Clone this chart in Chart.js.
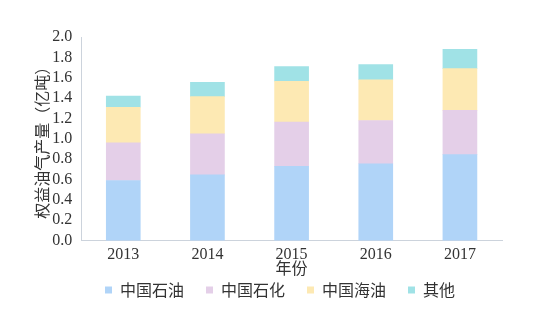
<!DOCTYPE html>
<html><head><meta charset="utf-8">
<script src="https://cdn.jsdelivr.net/npm/chart.js@4/dist/chart.umd.min.js"></script>
<style>html,body{margin:0;padding:0;background:#fff}#wrap{width:554px;height:309px}</style>
</head><body><div id="wrap"><canvas id="c" width="554" height="309"></canvas></div>
<script>
const years = ['2013','2014','2015','2016','2017'];
const seriesNames = ['中国石油','中国石化','中国海油','其他'];
const cnpc = [0.59, 0.645, 0.73, 0.755, 0.845];
const sinopec = [0.37, 0.405, 0.435, 0.425, 0.435];
const cnooc = [0.35, 0.365, 0.40, 0.40, 0.41];
const others = [0.11, 0.14, 0.145, 0.15, 0.19];
const yTicks = [0,0.2,0.4,0.6,0.8,1.0,1.2,1.4,1.6,1.8,2.0];
const colors = ['#b0d4f8','#e4cfe8','#fde9b3','#a0e2e6'];
const serif = "'Liberation Serif','DejaVu Serif',serif";
const cjk = "'Noto Sans CJK SC','Liberation Serif',sans-serif";
const values = [cnpc, sinopec, cnooc, others];
const TRIM = 18;
const SHIFT_X = 13;
const legendTrim = {
  id:'legendTrim',
  afterInit(chart){
    const lg = chart.legend;
    if(!lg) return;
    const origFit = lg.fit;
    lg.fit = function(){ origFit.call(this); this.height -= TRIM; };
    const origDraw = lg._draw;
    lg._draw = function(){
      const ctx = this.ctx; ctx.save(); ctx.translate(SHIFT_X,-TRIM);
      origDraw.call(this); ctx.restore();
    };
  }
};
new Chart(document.getElementById('c'), {
  type: 'bar',
  data: {
    labels: years,
    datasets: seriesNames.map((n,i)=>({label:n,data:values[i],backgroundColor:colors[i],borderWidth:0,barThickness:34}))
  },
  plugins:[legendTrim],
  options: {
    responsive:false, animation:false,
    layout:{padding:{left:32,right:52,top:37,bottom:1}},
    plugins:{
      tooltip:{enabled:false},
      legend:{position:'bottom',labels:{boxWidth:7,boxHeight:7,padding:22,color:'#333',font:{family:cjk,size:16}}}
    },
    scales:{
      x:{stacked:true,grid:{display:false},border:{display:true,color:'#ccd3dc'},
         ticks:{color:'#333',font:{family:serif,size:16},padding:-3},
         title:{display:true,text:'年份',color:'#333',font:{family:cjk,size:16},padding:{top:-3,bottom:0}}},
      y:{stacked:true,min:0,max:2,grid:{display:false},border:{display:true,color:'#ccd3dc'},
         afterBuildTicks:(s)=>{s.ticks=yTicks.map(v=>({value:v}));},
         ticks:{autoSkip:false,color:'#333',font:{family:serif,size:16},padding:1,callback:v=>Number(v).toFixed(1)},
         title:{display:true,text:'权益油气产量（亿吨）',color:'#333',font:{family:cjk,size:16},padding:{top:0,bottom:0}}}
    }
  }
});
</script></body></html>
